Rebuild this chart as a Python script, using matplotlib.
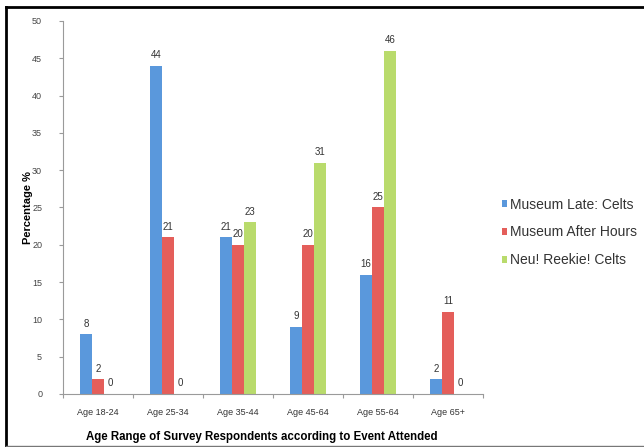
import numpy as np
import matplotlib.pyplot as plt
from matplotlib.lines import Line2D

plt.rcParams['font.family'] = ['Liberation Sans', 'DejaVu Sans']

grupos = ["Age 18-24", "Age 25-34", "Age 35-44", "Age 45-64", "Age 55-64", "Age 65+"]
series = ["Museum Late: Celts", "Museum After Hours", "Neu! Reekie! Celts"]
late_celts = [8, 44, 21, 9, 16, 2]
after_hours = [2, 21, 20, 20, 25, 11]
reekie_celts = [0, 0, 23, 31, 46, 0]

colores = ["#5a98dc", "#e45e5a", "#b9db6c"]
gris = "#9a9a9a"

fig = plt.figure(figsize=(6.44, 4.47), dpi=100)
ax = fig.add_axes([0.0978, 0.1186, 0.652, 0.8345])

x = np.arange(len(grupos))
ancho = 0.172
valores = [late_celts, after_hours, reekie_celts]
for i, vals in enumerate(valores):
    pos = x + (i - 1) * ancho
    ax.bar(pos, vals, ancho, color=colores[i], label=series[i], linewidth=0)
    for xb, v in zip(pos, vals):
        ax.annotate(str(v), (xb, v), xytext=(0, 4), textcoords="offset points",
                    ha="center", va="bottom", fontsize=7, color="#333333")

ax.set_xlim(-0.5, len(grupos) - 0.5)
ax.set_ylim(0, 50)
ax.set_yticks(range(0, 51, 5))
ax.set_xticks(x)
ax.set_xticklabels(grupos)
ax.set_xticks(np.arange(-0.5, len(grupos), 1), minor=True)
ax.tick_params(axis="x", which="major", length=0, labelsize=6.5, labelcolor="#333333", pad=10)
ax.tick_params(axis="x", which="minor", length=3, color=gris, width=0.8)
ax.tick_params(axis="y", length=3, color=gris, width=0.8, labelsize=6.5, labelcolor="#444444", pad=12)

for lado in ["top", "right"]:
    ax.spines[lado].set_visible(False)
for lado in ["left", "bottom"]:
    ax.spines[lado].set_color(gris)
    ax.spines[lado].set_linewidth(0.8)

ax.set_ylabel("Percentage %", fontsize=8, fontweight="bold")
ax.yaxis.set_label_coords(-0.071, 0.5)
ax.set_xlabel("Age Range of Survey Respondents according to Event Attended",
              fontsize=8.3, fontweight="bold")
ax.xaxis.set_label_coords(0.474, -0.1)

ax.legend(loc="center left", bbox_to_anchor=(1.015, 0.433), frameon=False,
          fontsize=10, handlelength=0.35, handleheight=0.35, handletextpad=0.25,
          labelspacing=1.0, labelcolor="#333333")

# marco negro alrededor de la figura
fig.add_artist(Line2D([6 / 644, 6 / 644], [0, 1 - 7 / 447], color="black", lw=2,
                      transform=fig.transFigure))
fig.add_artist(Line2D([6 / 644, 1], [1 - 7 / 447, 1 - 7 / 447], color="black", lw=2,
                      transform=fig.transFigure))
fig.add_artist(Line2D([6 / 644, 1], [0.002, 0.002], color="#777777", lw=1,
                      transform=fig.transFigure))

fig.savefig("out.png", dpi=100)
